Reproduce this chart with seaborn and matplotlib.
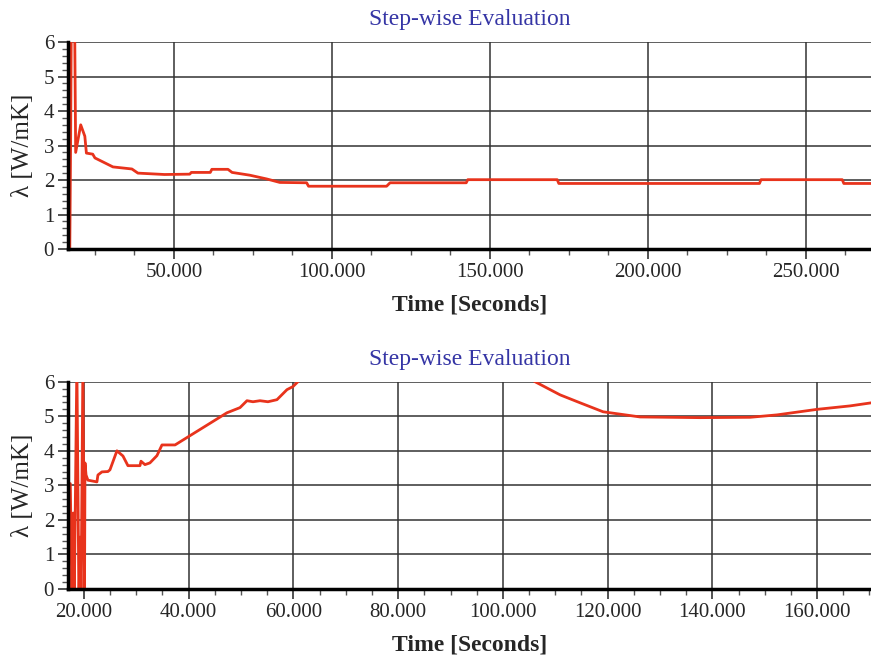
import numpy as np
import pandas as pd
import matplotlib
matplotlib.use("Agg")
import matplotlib.pyplot as plt
import matplotlib.ticker as mticker
import seaborn as sns

# top panel: long run
top_time = [17000, 17300, 17500, 18600, 18900, 20500, 21800, 22300, 24300, 25000,
            30700, 36700, 38600, 47000, 55000, 55500, 61500, 62000, 67100, 68400,
            74000, 79400, 83500, 92000, 92600, 117300, 118400, 142500, 143000,
            171300, 171800, 235300, 235800, 261500, 262000, 271000]
top_lambda = [-0.5, 3.0, 6.3, 6.3, 2.8, 3.6, 3.27, 2.78, 2.75, 2.64,
              2.38, 2.32, 2.2, 2.16, 2.17, 2.22, 2.22, 2.31, 2.31, 2.22,
              2.14, 2.03, 1.93, 1.92, 1.82, 1.82, 1.92, 1.92, 2.01,
              2.01, 1.9, 1.9, 2.01, 2.01, 1.9, 1.9]

# bottom panel: short run
bot_time = [16900, 17100, 17400, 17700, 17950, 18150, 18650, 19050, 19250, 19450,
            19800, 20100, 20200, 20400, 20760, 22480, 22670, 23440, 24580, 24970,
            26300, 27450, 28400, 30700, 30890, 31650, 32600, 33940, 34900, 37400,
            47300, 49800, 51130, 52280, 53620, 55140, 56860, 58770, 59920, 61260,
            70000, 85000, 100000, 106140, 110920, 114740, 119130, 126200, 137660,
            147200, 152360, 160000, 166300, 170400]
bot_lambda = [-0.3, 3.05, 3.05, -0.3, 2.2, -0.3, 6.5, -0.5, 1.5, -0.3,
              6.5, -0.5, 3.65, 3.3, 3.15, 3.1, 3.3, 3.39, 3.4, 3.45,
              4.0, 3.85, 3.57, 3.57, 3.7, 3.6, 3.65, 3.86, 4.17, 4.17,
              5.1, 5.25, 5.45, 5.42, 5.45, 5.42, 5.48, 5.77, 5.86, 6.06,
              6.6, 7.0, 6.6, 6.0, 5.62, 5.39, 5.13, 4.98, 4.96,
              4.97, 5.04, 5.2, 5.3, 5.39]

top_ticks = [50000, 100000, 150000, 200000, 250000]
bot_ticks = [20000, 40000, 60000, 80000, 100000, 120000, 140000, 160000]

sns.set_style("white")
plt.rcParams['font.family'] = ['Liberation Serif', 'DejaVu Serif']

fig = plt.figure(figsize=(8.71, 6.57), dpi=100)
ax1 = fig.add_axes([0.078, 0.621, 0.922, 0.315])
ax2 = fig.add_axes([0.078, 0.1035, 0.922, 0.3155])

line_color = "#e8331c"
title_color = "#3535a5"


def dotted(x, pos):
    return f"{x:,.0f}".replace(",", ".")


panels = [
    (ax1, top_time, top_lambda, top_ticks, (16456, 270600), 12500),
    (ax2, bot_time, bot_lambda, bot_ticks, (16944, 170300), 5000),
]

for ax, t, lam, ticks, xlim, minor in panels:
    df = pd.DataFrame({"t": t, "lam": lam})
    sns.lineplot(data=df, x="t", y="lam", ax=ax, color=line_color, lw=2.0,
                 estimator=None, sort=False, zorder=5)
    ax.set_xlim(*xlim)
    ax.set_ylim(0, 6)
    ax.set_xticks(ticks)
    ax.xaxis.set_minor_locator(mticker.MultipleLocator(minor))
    ax.set_yticks(range(0, 7))
    ax.yaxis.set_minor_locator(mticker.MultipleLocator(0.2))
    ax.xaxis.set_major_formatter(mticker.FuncFormatter(dotted))
    ax.grid(True, which="major", color="#333333", lw=1.1)
    ax.set_axisbelow(True)
    for s in ["top", "right"]:
        ax.spines[s].set_visible(False)
    for s in ["left", "bottom"]:
        ax.spines[s].set_color("black")
        ax.spines[s].set_linewidth(2.5)
        ax.spines[s].set_zorder(6)
    ax.tick_params(axis="both", which="major", direction="out", length=7, width=1.2,
                   color="#333333", labelsize=15, pad=3, bottom=True, left=True)
    ax.tick_params(axis="both", which="minor", direction="out", length=4, width=1.0,
                   color="#555555", bottom=True, left=True)
    ax.set_xlabel("Time [Seconds]", fontsize=17, fontweight="bold", labelpad=9)
    ax.set_ylabel("λ [W/mK]", fontsize=18)
    ax.yaxis.set_label_coords(-0.042, 0.5)
    ax.set_title("Step-wise Evaluation", fontsize=17, color=title_color, pad=12)

fig.savefig("out.png", dpi=100)
